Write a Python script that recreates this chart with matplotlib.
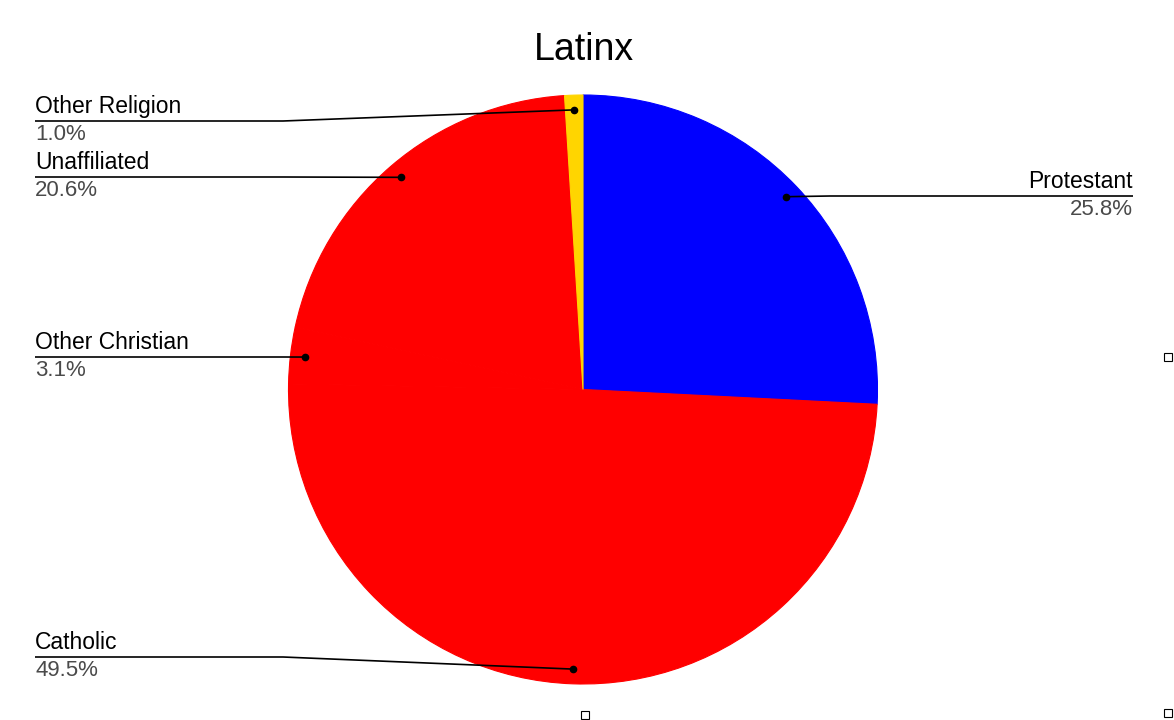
import numpy as np
from matplotlib import pyplot as plt

# data
labels = ['Protestant', 'Catholic', 'Other Christian', 'Unaffiliated', 'Other Religion']
values = [25.8, 49.5, 3.1, 20.6, 1.0]
colors = ['#0000ff', '#ff0000', '#ff0000', '#ff0000', '#ffd500']
title = 'Latinx'

# layout (pixel coords, y measured from top of image)
W, H = 1174, 720
center = (583, 389.5)
radius = 294.5
label_y = [196, 657, 357, 177, 121]
label_side = ['right', 'left', 'left', 'left', 'left']

plt.rcParams['font.family'] = ['Liberation Sans', 'DejaVu Sans']

fig = plt.figure(figsize=(W / 100, H / 100), dpi=100)
ax = fig.add_axes([0, 0, 1, 1])

cx, cy = center[0], H - center[1]
wedges, _ = ax.pie(values, colors=colors, startangle=90, counterclock=False,
                   center=(cx, cy), radius=radius, frame=True,
                   wedgeprops=dict(linewidth=0.8))
for w, c in zip(wedges, colors):
    w.set_edgecolor(c)
ax.set_xlim(0, W)
ax.set_ylim(0, H)
ax.axis('off')

for w, name, v, ly, side in zip(wedges, labels, values, label_y, label_side):
    ang = np.deg2rad((w.theta1 + w.theta2) / 2)
    dx = cx + 0.95 * radius * np.cos(ang)
    dy = cy + 0.95 * radius * np.sin(ang)
    y = H - ly
    if side == 'left':
        x0, xe = 35, min(283, dx)
        ha = 'left'
    else:
        x0, xe = 1133, max(830, dx)
        ha = 'right'
    ax.plot([x0, xe, dx], [y, y, dy], color='black', lw=1.2, solid_capstyle='butt')
    ax.text(x0, y + 8, name, ha=ha, va='baseline', fontsize=16.5, color='black')
    ax.text(x0, y - 3, '%.1f%%' % v, ha=ha, va='top', fontsize=16, color='#4a4a4a')
    ax.plot(dx, dy, 'o', color='black', markersize=4.5)

ax.text(584, H - 50, title, ha='center', va='center', fontsize=27, color='black')

# small handle squares at the edges
for sx, sy in [(1168, 357), (585, 715), (1168, 713)]:
    ax.plot(sx, H - sy, 's', markerfacecolor='white', markeredgecolor='black',
            markersize=6, markeredgewidth=0.8, clip_on=False)

fig.savefig('out.png', dpi=100)
